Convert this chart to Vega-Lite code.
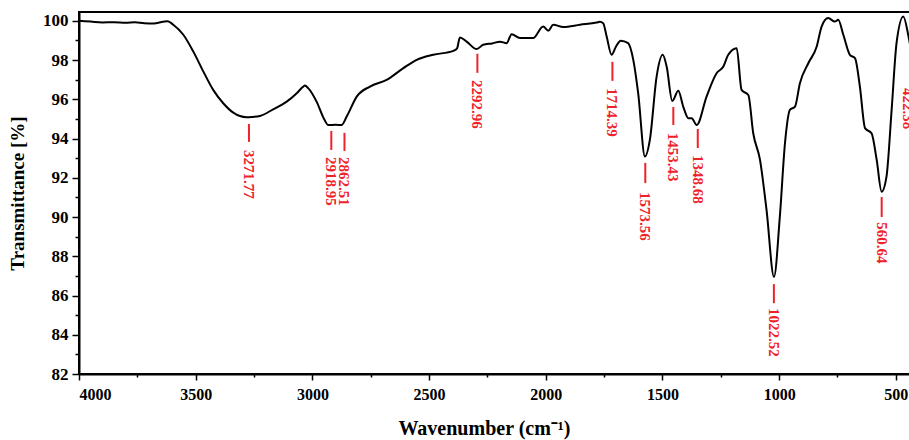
{
  "$schema": "https://vega.github.io/schema/vega-lite/v6.json",
  "width": 832,
  "height": 362,
  "autosize": {"type": "none"},
  "padding": {"left": 79, "top": 12, "right": 0, "bottom": 66},
  "background": "white",
  "view": {"stroke": "black", "strokeWidth": 2},
  "config": {
    "font": "Liberation Serif",
    "axis": {
      "domainColor": "black", "domainWidth": 2, "tickColor": "black", "tickWidth": 1.5,
      "labelColor": "black", "labelFont": "Liberation Serif", "labelFontWeight": "bold",
      "titleColor": "black", "titleFont": "Liberation Serif", "titleFontWeight": "bold",
      "grid": false
    }
  },
  "datasets": {
    "spectrum": [
      {"wn": 4000, "T": 100.0}, {"wn": 3950, "T": 99.96}, {"wn": 3900, "T": 99.92}, {"wn": 3850, "T": 99.93},
      {"wn": 3800, "T": 99.9}, {"wn": 3760, "T": 99.93}, {"wn": 3720, "T": 99.88}, {"wn": 3680, "T": 99.87},
      {"wn": 3640, "T": 99.95}, {"wn": 3620, "T": 99.98}, {"wn": 3596, "T": 99.8}, {"wn": 3553, "T": 99.29},
      {"wn": 3510, "T": 98.43}, {"wn": 3467, "T": 97.41}, {"wn": 3425, "T": 96.48}, {"wn": 3382, "T": 95.8},
      {"wn": 3339, "T": 95.32}, {"wn": 3282, "T": 95.09}, {"wn": 3260, "T": 95.1}, {"wn": 3225, "T": 95.15},
      {"wn": 3168, "T": 95.49}, {"wn": 3110, "T": 95.88}, {"wn": 3067, "T": 96.31}, {"wn": 3039, "T": 96.65},
      {"wn": 3032, "T": 96.7}, {"wn": 3018, "T": 96.57}, {"wn": 2982, "T": 95.88}, {"wn": 2950, "T": 95.0},
      {"wn": 2932, "T": 94.69}, {"wn": 2900, "T": 94.7}, {"wn": 2875, "T": 94.69}, {"wn": 2853, "T": 95.12},
      {"wn": 2810, "T": 96.14}, {"wn": 2753, "T": 96.65}, {"wn": 2682, "T": 96.99}, {"wn": 2610, "T": 97.59},
      {"wn": 2553, "T": 98.01}, {"wn": 2482, "T": 98.27}, {"wn": 2396, "T": 98.47}, {"wn": 2380, "T": 98.6},
      {"wn": 2368, "T": 99.15}, {"wn": 2339, "T": 98.94}, {"wn": 2296, "T": 98.56}, {"wn": 2268, "T": 98.78},
      {"wn": 2230, "T": 98.85}, {"wn": 2196, "T": 98.94}, {"wn": 2168, "T": 98.86}, {"wn": 2146, "T": 99.32},
      {"wn": 2111, "T": 99.12}, {"wn": 2054, "T": 99.12}, {"wn": 2011, "T": 99.71}, {"wn": 1989, "T": 99.5},
      {"wn": 1968, "T": 99.8}, {"wn": 1925, "T": 99.68}, {"wn": 1853, "T": 99.8}, {"wn": 1782, "T": 99.91},
      {"wn": 1768, "T": 99.95}, {"wn": 1754, "T": 99.88}, {"wn": 1739, "T": 99.2}, {"wn": 1718, "T": 98.27},
      {"wn": 1699, "T": 98.69}, {"wn": 1679, "T": 98.99}, {"wn": 1647, "T": 98.86}, {"wn": 1625, "T": 98.01},
      {"wn": 1604, "T": 96.31}, {"wn": 1575, "T": 93.08}, {"wn": 1554, "T": 93.93}, {"wn": 1525, "T": 97.16},
      {"wn": 1499, "T": 98.27}, {"wn": 1482, "T": 97.67}, {"wn": 1458, "T": 95.92}, {"wn": 1432, "T": 96.44},
      {"wn": 1411, "T": 95.63}, {"wn": 1389, "T": 95.04}, {"wn": 1375, "T": 95.04}, {"wn": 1353, "T": 94.69},
      {"wn": 1311, "T": 96.14}, {"wn": 1268, "T": 97.33}, {"wn": 1239, "T": 97.67}, {"wn": 1218, "T": 98.27},
      {"wn": 1182, "T": 98.6}, {"wn": 1161, "T": 96.48}, {"wn": 1132, "T": 96.22}, {"wn": 1111, "T": 94.27},
      {"wn": 1082, "T": 92.91}, {"wn": 1054, "T": 90.36}, {"wn": 1022, "T": 86.95}, {"wn": 997, "T": 90.02},
      {"wn": 975, "T": 93.76}, {"wn": 954, "T": 95.46}, {"wn": 932, "T": 95.63}, {"wn": 911, "T": 96.82},
      {"wn": 875, "T": 97.84}, {"wn": 839, "T": 98.69}, {"wn": 818, "T": 99.71}, {"wn": 790, "T": 100.14},
      {"wn": 761, "T": 99.96}, {"wn": 747, "T": 100.05}, {"wn": 725, "T": 99.29}, {"wn": 697, "T": 98.27},
      {"wn": 675, "T": 98.1}, {"wn": 654, "T": 96.65}, {"wn": 632, "T": 94.53}, {"wn": 604, "T": 94.27},
      {"wn": 582, "T": 92.91}, {"wn": 561, "T": 91.29}, {"wn": 540, "T": 92.06}, {"wn": 518, "T": 95.46},
      {"wn": 497, "T": 98.86}, {"wn": 468, "T": 100.22}, {"wn": 447, "T": 99.29}, {"wn": 435, "T": 98.5}
    ],
    "peaks": [
      {"wn": 3271.77, "label": "3271.77", "top": 94.74, "bottom": 93.83, "ty": 93.42},
      {"wn": 2918.95, "label": "2918.95", "top": 94.39, "bottom": 93.42, "ty": 93.06},
      {"wn": 2862.51, "label": "2862.51", "top": 94.29, "bottom": 93.37, "ty": 93.06},
      {"wn": 2292.96, "label": "2292.96", "top": 98.32, "bottom": 97.35, "ty": 96.99},
      {"wn": 1714.39, "label": "1714.39", "top": 97.91, "bottom": 96.94, "ty": 96.58},
      {"wn": 1573.56, "label": "1573.56", "top": 92.76, "bottom": 91.73, "ty": 91.28},
      {"wn": 1453.43, "label": "1453.43", "top": 95.61, "bottom": 94.69, "ty": 94.29},
      {"wn": 1348.68, "label": "1348.68", "top": 94.49, "bottom": 93.52, "ty": 93.16},
      {"wn": 1022.52, "label": "1022.52", "top": 86.58, "bottom": 85.61, "ty": 85.36},
      {"wn": 560.64, "label": "560.64", "top": 91.02, "bottom": 90.0, "ty": 89.74},
      {"wn": 422.38, "label": "422.38", "top": 97.91, "bottom": 96.99, "ty": 96.58}
    ]
  },
  "resolve": {"axis": {"x": "independent", "y": "independent"}},
  "layer": [
    {
      "data": {"name": "spectrum"},
      "mark": {"type": "line", "color": "black", "strokeWidth": 2, "interpolate": "monotone", "clip": true},
      "encoding": {
        "x": {
          "field": "wn", "type": "quantitative",
          "scale": {"domain": [4000, 435], "nice": false, "zero": false},
          "axis": {
            "orient": "bottom", "values": [4000, 3500, 3000, 2500, 2000, 1500, 1000, 500], "format": "d",
            "tickSize": 6, "labelFontSize": 16, "labelPadding": 6, "labelFont": "Liberation Serif",
            "title": "Wavenumber (cm⁻¹)", "titleFontSize": 20, "titlePadding": 16, "titleX": 405
          }
        },
        "y": {
          "field": "T", "type": "quantitative",
          "scale": {"domain": [82, 100.45], "nice": false, "zero": false},
          "axis": {
            "orient": "left", "values": [82, 84, 86, 88, 90, 92, 94, 96, 98, 100], "format": "d",
            "tickSize": 7, "labelFontSize": 17, "labelPadding": 4, "labelFont": "Liberation Serif",
            "title": "Transmittance [%]", "titleFontSize": 19, "titlePadding": 15
          }
        }
      }
    },
    {
      "data": {"name": "peaks"},
      "mark": {"type": "rule", "color": "#ee2228", "strokeWidth": 2},
      "encoding": {
        "x": {
          "field": "wn", "type": "quantitative",
          "axis": {
            "orient": "bottom", "values": [3750, 3250, 2750, 2250, 1750, 1250, 750],
            "tickSize": 3, "labels": false, "domain": false, "title": null
          }
        },
        "y": {
          "field": "top", "type": "quantitative",
          "axis": {
            "orient": "left", "values": [83, 85, 87, 89, 91, 93, 95, 97, 99],
            "tickSize": 4, "labels": false, "domain": false, "title": null
          }
        },
        "y2": {"field": "bottom"}
      }
    },
    {
      "data": {"name": "peaks"},
      "transform": [{"filter": "datum.wn > 430"}],
      "mark": {"type": "text", "color": "#ee2228", "angle": 90, "align": "left", "baseline": "middle", "fontSize": 15, "fontWeight": "bold", "font": "Liberation Serif"},
      "encoding": {
        "x": {"field": "wn", "type": "quantitative", "axis": null},
        "y": {"field": "ty", "type": "quantitative", "axis": null},
        "text": {"field": "label"}
      }
    },
    {
      "data": {"name": "peaks"},
      "transform": [{"filter": "datum.wn < 430"}],
      "mark": {"type": "text", "color": "#ee2228", "angle": 90, "align": "left", "baseline": "middle", "fontSize": 15, "fontWeight": "bold", "font": "Liberation Serif", "dy": 6},
      "encoding": {
        "x": {"field": "wn", "type": "quantitative", "axis": null},
        "y": {"field": "ty", "type": "quantitative", "axis": null},
        "text": {"field": "label"}
      }
    }
  ]
}
